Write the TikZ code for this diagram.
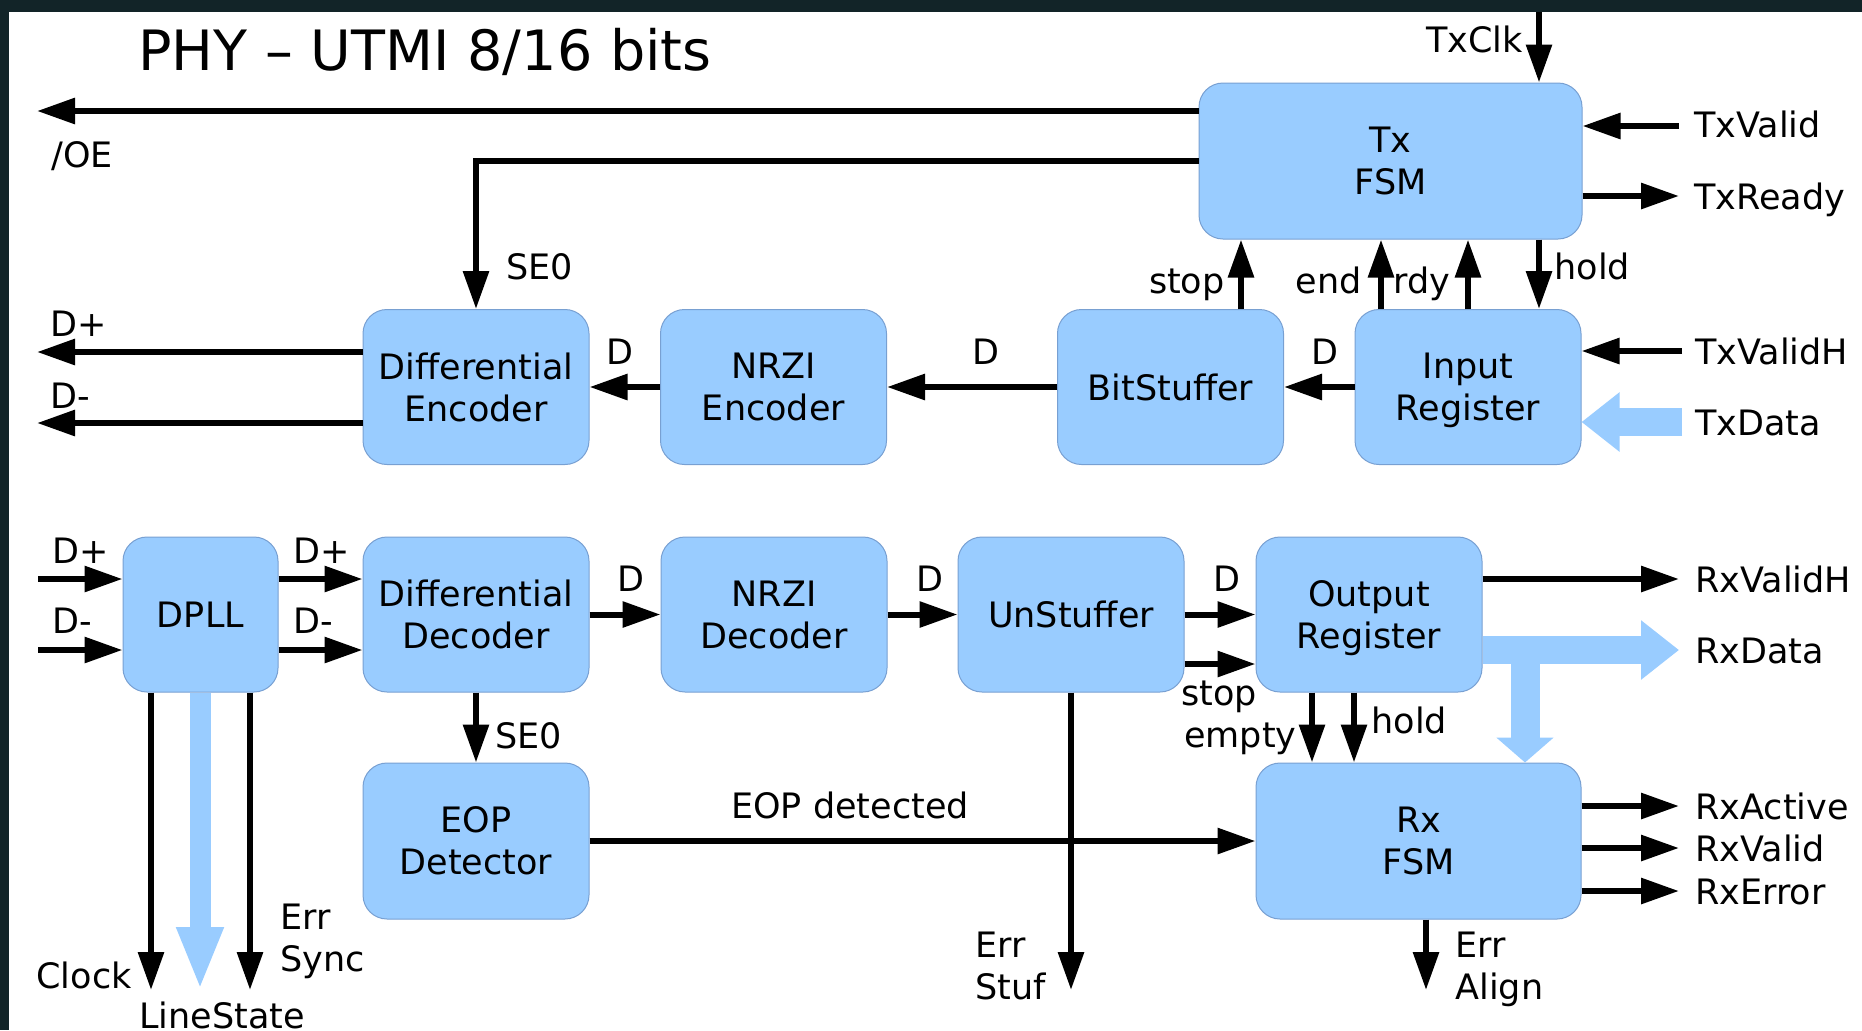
\documentclass[tikz,border=0pt]{standalone}
\usepackage{fontspec}
\setmainfont{DejaVu Sans}
\usetikzlibrary{arrows.meta, positioning, calc}
\definecolor{BlockBlue}{RGB}{153, 204, 255}
\definecolor{BlockEdge}{RGB}{120, 160, 210}
\definecolor{ScreenDark}{RGB}{18, 36, 40}

\begin{document}
\begin{tikzpicture}[x=0.5pt, y=-0.5pt,
    block/.style={rectangle, rounded corners=12pt, fill=BlockBlue, draw=BlockEdge,
                  line width=0.5pt, minimum width=113pt, minimum height=77.5pt,
                  inner sep=0pt, align=center, font=\fontsize{17.5}{21}\selectfont},
    sig/.style={line width=3pt, -{Triangle[length=19pt, width=12.5pt]}},
    bus/.style={BlockBlue, line width=14pt, -{Triangle[length=19pt, width=28.5pt]}},
    lbl/.style={inner sep=0pt, font=\fontsize{17.5}{21}\selectfont},
    lbltwo/.style={lbl, align=left, anchor=west}]
    % Page frame
    \path[use as bounding box] (0,0) rectangle (1862,1030);
    \fill[ScreenDark] (0,0) rectangle (1862,1030);
    \fill[white] (9,12) rectangle (1862,1030);

    % Title
    \node[anchor=base west, inner sep=0pt, font=\fontsize{27.8}{33}\selectfont] (title) at (138,70)
        {PHY \textendash{} UTMI 8/16 bits};

    % Transmit path blocks
    \node[block, minimum width=191.5pt, minimum height=78pt] (txfsm) at (1390.5,161) {Tx\\FSM};
    \node[block] (diffenc)  at (476,387)    {Differential\\Encoder};
    \node[block] (nrzienc)  at (773.5,387)  {NRZI\\Encoder};
    \node[block] (bitstuff) at (1170.5,387) {BitStuffer};
    \node[block] (inreg)    at (1468,387)   {Input\\\smash{Register}};

    % Receive path blocks
    \node[block, minimum width=77.5pt] (dpll) at (200.5,614.5) {DPLL};
    \node[block] (diffdec) at (476,614.5)  {Differential\\Decoder};
    \node[block] (nrzidec) at (774,614.5)  {NRZI\\Decoder};
    \node[block] (unstuff) at (1071,614.5) {UnStuffer};
    \node[block] (outreg)  at (1369,614.5) {Output\\\smash{Register}};
    \node[block, minimum height=78pt] (eop) at (476,841) {EOP\\Detector};
    \node[block, minimum width=162.5pt, minimum height=78pt] (rxfsm) at (1418.5,841) {Rx\\FSM};

    % Free ends and tap positions
    \coordinate (oeEnd)    at (37,111);
    \coordinate (se0Bend)  at (476,161);
    \coordinate (txclkTop) at (1539,12);
    \coordinate (txvIn)    at (1679,126);
    \coordinate (txrOut)   at (1679,196);
    \coordinate (stopX)    at (1241,0);
    \coordinate (endX)     at (1381,0);
    \coordinate (rdyX)     at (1468,0);
    \coordinate (holdX)    at (1539,0);
    \coordinate (dpOut)    at (37,352);
    \coordinate (dmOut)    at (37,423);
    \coordinate (txvhIn)   at (1682,351);
    \coordinate (txdIn)    at (1682,422);
    \coordinate (dpIn)     at (38,579);
    \coordinate (dmIn)     at (38,650);
    \coordinate (stopY)    at (0,664);
    \coordinate (rxvhOut)  at (1679,579);
    \coordinate (rxdOut)   at (1679,650);
    \coordinate (rxdSplit) at (1525,650);
    \coordinate (emptyX)   at (1312,0);
    \coordinate (rholdX)   at (1354,0);
    \coordinate (errStuf)  at (1071,990);
    \coordinate (errAlign) at (1426,990);
    \coordinate (rxAct)    at (1679,806);
    \coordinate (rxVal)    at (1679,848);
    \coordinate (rxErr)    at (1679,891);
    \coordinate (clkOut)   at (151,990);
    \coordinate (lsOut)    at (200,990);
    \coordinate (syncOut)  at (250,990);

    % Tx FSM connections
    \draw[sig] (txfsm.west |- oeEnd) -- (oeEnd);
    \draw[sig] (txfsm.west |- se0Bend) -- (se0Bend) -- (diffenc.north);
    \draw[sig] (txclkTop) -- (txclkTop |- txfsm.north);
    \draw[sig] (txvIn) -- (txvIn -| txfsm.east);
    \draw[sig] (txfsm.east |- txrOut) -- (txrOut);
    \draw[sig] (bitstuff.north -| stopX) -- (txfsm.south -| stopX);
    \draw[sig] (inreg.north -| endX) -- (txfsm.south -| endX);
    \draw[sig] (inreg.north -| rdyX) -- (txfsm.south -| rdyX);
    \draw[sig] (txfsm.south -| holdX) -- (inreg.north -| holdX);

    % Tx data path
    \draw[sig] (diffenc.west |- dpOut) -- (dpOut);
    \draw[sig] (diffenc.west |- dmOut) -- (dmOut);
    \draw[sig] (nrzienc.west) -- (diffenc.east);
    \draw[sig] (bitstuff.west) -- (nrzienc.east);
    \draw[sig] (inreg.west) -- (bitstuff.east);
    \draw[sig] (txvhIn) -- (txvhIn -| inreg.east);
    \draw[bus] (txdIn) -- (txdIn -| inreg.east);

    % Rx data path
    \draw[sig] (dpIn) -- (dpIn -| dpll.west);
    \draw[sig] (dmIn) -- (dmIn -| dpll.west);
    \draw[sig] (dpll.east |- dpIn) -- (diffdec.west |- dpIn);
    \draw[sig] (dpll.east |- dmIn) -- (diffdec.west |- dmIn);
    \draw[sig] (diffdec.east) -- (nrzidec.west);
    \draw[sig] (nrzidec.east) -- (unstuff.west);
    \draw[sig] (unstuff.east) -- (outreg.west);
    \draw[sig] (unstuff.east |- stopY) -- (outreg.west |- stopY);
    \draw[sig] (outreg.east |- rxvhOut) -- (rxvhOut);
    \draw[bus] (outreg.east |- rxdOut) -- (rxdOut);
    \draw[BlockBlue, line width=14.5pt, -{Triangle[length=12.5pt, width=28pt]}]
        (rxdSplit) -- (rxdSplit |- rxfsm.north);

    % Rx control and errors
    \draw[sig] (outreg.south -| emptyX) -- (rxfsm.north -| emptyX);
    \draw[sig] (outreg.south -| rholdX) -- (rxfsm.north -| rholdX);
    \draw[sig] (diffdec.south) -- (eop.north);
    \draw[sig] (eop.east) -- (rxfsm.west);
    \draw[sig] (unstuff.south) -- (errStuf);
    \draw[sig] (rxfsm.south -| errAlign) -- (errAlign);
    \draw[sig] (rxfsm.east |- rxAct) -- (rxAct);
    \draw[sig] (rxfsm.east |- rxVal) -- (rxVal);
    \draw[sig] (rxfsm.east |- rxErr) -- (rxErr);
    \draw[sig] (dpll.south -| clkOut) -- (clkOut);
    \draw[BlockBlue, line width=10.5pt, -{Triangle[length=31.5pt, width=21.5pt]}]
        (dpll.south -| lsOut) -- (lsOut);
    \draw[sig] (dpll.south -| syncOut) -- (syncOut);

    % Signal labels
    \node[lbl, anchor=base west] (oeLbl)    at (51,167)   {/OE};
    \node[lbl, anchor=base west] (se0tLbl)  at (506,279)  {SE0};
    \node[lbl, anchor=base east] (txclkLbl) at (1523,52)  {TxClk};
    \node[lbl, anchor=base west] (txvLbl)   at (1694,137) {TxValid};
    \node[lbl, anchor=base west] (txrLbl)   at (1694,209) {TxReady};
    \node[lbl, anchor=base east] (stopLbl)  at (1225,293) {stop};
    \node[lbl, anchor=base east] (endLbl)   at (1362,293) {end};
    \node[lbl, anchor=base east] (rdyLbl)   at (1451,293) {rdy};
    \node[lbl, anchor=base west] (holdLbl)  at (1554,279) {hold};
    \node[lbl, anchor=base west] (dpoLbl)   at (50,336)   {D+};
    \node[lbl, anchor=base west] (dmoLbl)   at (50,408)   {D-};
    \node[lbl, anchor=base]      (d1Lbl)    at (620,364)  {D};
    \node[lbl, anchor=base]      (d2Lbl)    at (986,364)  {D};
    \node[lbl, anchor=base]      (d3Lbl)    at (1325,364) {D};
    \node[lbl, anchor=base west] (txvhLbl)  at (1695,364) {TxValidH};
    \node[lbl, anchor=base west] (txdLbl)   at (1695,435) {TxData};

    \node[lbl, anchor=base west] (dpiLbl)   at (52,563)   {D+};
    \node[lbl, anchor=base west] (dmiLbl)   at (52,633)   {D-};
    \node[lbl, anchor=base west] (dpmLbl)   at (293,563)  {D+};
    \node[lbl, anchor=base west] (dmmLbl)   at (293,633)  {D-};
    \node[lbl, anchor=base]      (d4Lbl)    at (631,591)  {D};
    \node[lbl, anchor=base]      (d5Lbl)    at (930,591)  {D};
    \node[lbl, anchor=base]      (d6Lbl)    at (1227,591) {D};
    \node[lbl, anchor=base west] (rstopLbl) at (1181,705) {stop};
    \node[lbl, anchor=base east] (emptyLbl) at (1297,747) {empty};
    \node[lbl, anchor=base west] (rholdLbl) at (1371,733) {hold};
    \node[lbl, anchor=base west] (se0rLbl)  at (495,748)  {SE0};
    \node[lbl, anchor=base west] (rxvhLbl)  at (1695,592) {RxValidH};
    \node[lbl, anchor=base west] (rxdLbl)   at (1695,663) {RxData};
    \node[lbl, anchor=base west] (rxaLbl)   at (1695,819) {RxActive};
    \node[lbl, anchor=base west] (rxvLbl)   at (1695,861) {RxValid};
    \node[lbl, anchor=base west] (rxeLbl)   at (1695,904) {RxError};
    \node[lbl, anchor=base]      (eopLbl)   at (850,818)  {EOP detected};
    \node[lbl, anchor=base east] (clkLbl)   at (132,988)  {Clock};
    \node[lbl, anchor=base west] (lsLbl)    at (139,1028) {LineState};
    \node[lbltwo] (syncLbl)  at (280,941)  {Err\\Sync};
    \node[lbltwo] (stufLbl)  at (975,966)  {Err\\Stuf};
    \node[lbltwo] (alignLbl) at (1455,969) {Err\\Align};
\end{tikzpicture}
\end{document}
